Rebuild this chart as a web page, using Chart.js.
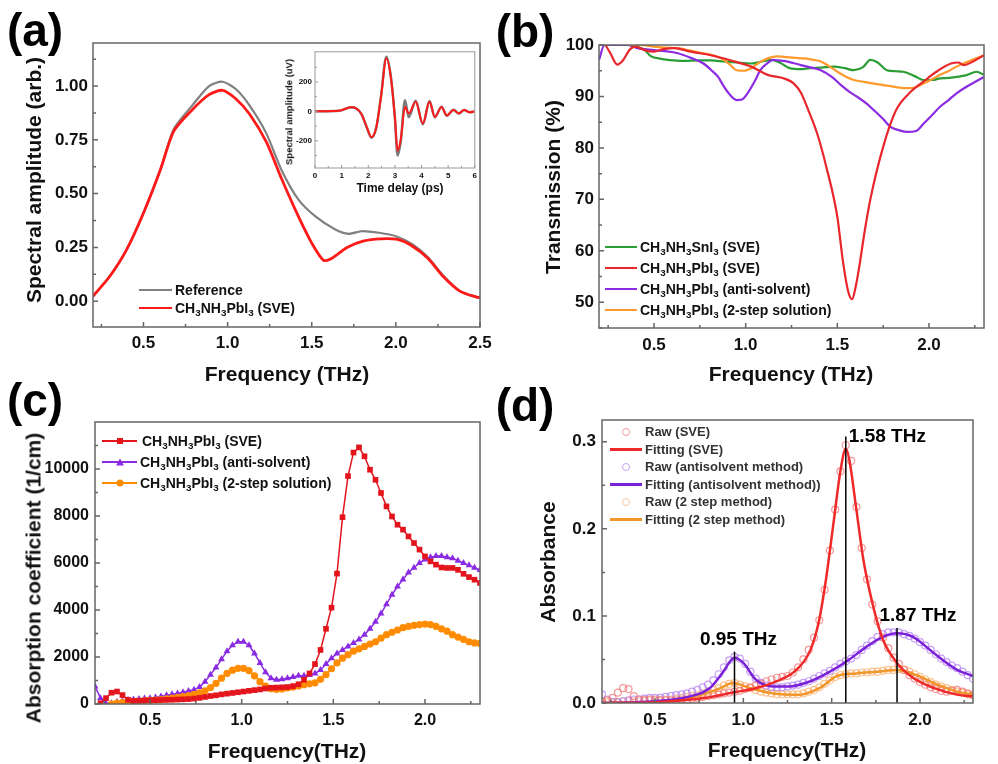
<!DOCTYPE html>
<html>
<head>
<meta charset="utf-8">
<script src="https://cdn.jsdelivr.net/npm/chart.js@4.4.1/dist/chart.umd.min.js"></script>
<style>
body { margin: 0; background: #fff; }
#page { position: relative; width: 998px; height: 764px; overflow: hidden; background: #fff;
        font-family: 'Liberation Sans', Arial, sans-serif; font-weight: bold; color: #111; }
canvas { position: absolute; }
.t { position: absolute; white-space: nowrap; line-height: 1; transform: translate(-50%, -50%); }
.r { transform: translate(-50%, -50%) rotate(-90deg); }
.lbl { font-size: 46px; color: #000; }
.ttl { font-size: 21px; }
.lg { position: absolute; white-space: nowrap; }
.lg > div { display: flex; align-items: center; }
.sw { position: relative; display: inline-block; margin-right: 3px; }
.mk { position: absolute; left: 50%; top: 50%; transform: translate(-50%, -50%); }
sub { font-size: 70%; vertical-align: -0.3em; line-height: 0; }
</style>
</head>
<body>
<div id="page">
  <canvas id="chartA" width="499" height="385" style="left:0;top:0"></canvas>
  <canvas id="chartInset" width="200" height="156" style="left:280px;top:44px"></canvas>
  <canvas id="chartB" width="508" height="385" style="left:490px;top:0"></canvas>
  <canvas id="chartC" width="499" height="379" style="left:0;top:385px"></canvas>
  <canvas id="chartD" width="508" height="379" style="left:490px;top:385px"></canvas>

  <div class="t lbl" style="left:35px;top:30px">(a)</div>
  <div class="t lbl" style="left:525px;top:31px">(b)</div>
  <div class="t lbl" style="left:35px;top:400px">(c)</div>
  <div class="t lbl" style="left:525px;top:405px">(d)</div>

  <div class="t ttl r" style="left:33px;top:180px">Spectral amplitude (arb.)</div>
  <div class="t ttl" style="left:287px;top:373px">Frequency (THz)</div>
  <div class="t r" style="left:289px;top:112px;font-size:9.5px">Spectral amplitude (uV)</div>
  <div class="t" style="left:400px;top:188px;font-size:12px">Time delay (ps)</div>

  <div class="t ttl r" style="left:552px;top:187px">Transmission (%)</div>
  <div class="t ttl" style="left:791px;top:373px">Frequency (THz)</div>

  <div class="t ttl r" style="left:33px;top:578px">Absorption coefficient (1/cm)</div>
  <div class="t ttl" style="left:287px;top:750px">Frequency(THz)</div>

  <div class="t ttl r" style="left:547px;top:562px">Absorbance</div>
  <div class="t ttl" style="left:787px;top:749px">Frequency(THz)</div>

  <div class="lg" style="left:139px;top:281px;font-size:14px">
    <div style="height:18px"><span class="sw" style="width:33px;height:2.5px;background:#808080"></span><span>Reference</span></div>
    <div style="height:18px"><span class="sw" style="width:33px;height:2.5px;background:#ff1a1a"></span><span>CH<sub>3</sub>NH<sub>3</sub>PbI<sub>3</sub> (SVE)</span></div>
  </div>

  <div class="lg" style="left:605px;top:236px;font-size:14px">
    <div style="height:21px"><span class="sw" style="width:32px;height:2px;background:#2a9d34"></span><span>CH<sub>3</sub>NH<sub>3</sub>SnI<sub>3</sub> (SVE)</span></div>
    <div style="height:21px"><span class="sw" style="width:32px;height:2px;background:#e8262b"></span><span>CH<sub>3</sub>NH<sub>3</sub>PbI<sub>3</sub> (SVE)</span></div>
    <div style="height:21px"><span class="sw" style="width:32px;height:2px;background:#8b2be2"></span><span>CH<sub>3</sub>NH<sub>3</sub>PbI<sub>3</sub> (anti-solvent)</span></div>
    <div style="height:21px"><span class="sw" style="width:32px;height:2px;background:#ff9a2e"></span><span>CH<sub>3</sub>NH<sub>3</sub>PbI<sub>3</sub> (2-step solution)</span></div>
  </div>

  <div class="lg" style="left:102px;top:430px;font-size:14px">
    <div style="height:21px"><span class="sw" style="width:35px;height:2px;background:#e3141c;margin-right:5px"><span class="mk" style="width:6px;height:6px;background:#e3141c"></span></span><span>CH<sub>3</sub>NH<sub>3</sub>PbI<sub>3</sub> (SVE)</span></div>
    <div style="height:21px"><span class="sw" style="width:35px;height:2px;background:#8a2be2"><span class="mk" style="width:0;height:0;border-left:4px solid transparent;border-right:4px solid transparent;border-bottom:7px solid #8a2be2"></span></span><span>CH<sub>3</sub>NH<sub>3</sub>PbI<sub>3</sub> (anti-solvent)</span></div>
    <div style="height:21px"><span class="sw" style="width:35px;height:2px;background:#ff8c00"><span class="mk" style="width:7px;height:7px;border-radius:50%;background:#ff8c00"></span></span><span>CH<sub>3</sub>NH<sub>3</sub>PbI<sub>3</sub> (2-step solution)</span></div>
  </div>

  <div class="lg" style="left:610px;top:423px;font-size:13px;color:#333">
    <div style="height:17.5px"><span class="sw" style="width:32px;height:2px"><span class="mk" style="width:6px;height:6px;border-radius:50%;border:1px solid #f39a9a"></span></span><span>Raw (SVE)</span></div>
    <div style="height:17.5px"><span class="sw" style="width:32px;height:3px;background:#ee2a2a"></span><span>Fitting (SVE)</span></div>
    <div style="height:17.5px"><span class="sw" style="width:32px;height:2px"><span class="mk" style="width:6px;height:6px;border-radius:50%;border:1px solid #c5a2f2"></span></span><span>Raw (antisolvent method)</span></div>
    <div style="height:17.5px"><span class="sw" style="width:32px;height:3px;background:#7b22d9"></span><span>Fitting (antisolvent method))</span></div>
    <div style="height:17.5px"><span class="sw" style="width:32px;height:2px"><span class="mk" style="width:6px;height:6px;border-radius:50%;border:1px solid #f8c298"></span></span><span>Raw (2 step method)</span></div>
    <div style="height:17.5px"><span class="sw" style="width:32px;height:3px;background:#f0962a"></span><span>Fitting (2 step method)</span></div>
  </div>
</div>

<script>
// (a) spectral amplitude
const aRefX = [0.2, 0.3, 0.4, 0.5, 0.6, 0.68, 0.79, 0.89, 0.97, 1.05, 1.13, 1.23, 1.32, 1.42, 1.52, 1.64, 1.72, 1.8, 1.9, 2.0, 2.1, 2.19, 2.28, 2.38, 2.48, 2.5];
const aRefY = [0.023, 0.116, 0.24, 0.41, 0.61, 0.8, 0.91, 1.0, 1.02, 0.985, 0.91, 0.78, 0.61, 0.473, 0.395, 0.333, 0.313, 0.326, 0.318, 0.302, 0.264, 0.205, 0.12, 0.047, 0.019, 0.017];
const aSveX = [0.2, 0.3, 0.4, 0.5, 0.6, 0.68, 0.79, 0.89, 0.97, 1.05, 1.13, 1.23, 1.32, 1.42, 1.5, 1.57, 1.62, 1.71, 1.81, 1.91, 2.01, 2.09, 2.19, 2.28, 2.38, 2.48, 2.5];
const aSveY = [0.023, 0.116, 0.24, 0.41, 0.61, 0.79, 0.89, 0.96, 0.98, 0.94, 0.87, 0.74, 0.57, 0.395, 0.27, 0.19, 0.2, 0.25, 0.28, 0.29, 0.287, 0.26, 0.2, 0.116, 0.047, 0.019, 0.017];

// inset: time-domain signal
const insetT = [0, 0.9, 1.35, 1.55, 1.75, 1.95, 2.12, 2.3, 2.48, 2.68, 2.85, 3.0, 3.1, 3.22, 3.38, 3.52, 3.78, 4.05, 4.3, 4.5, 4.75, 4.95, 5.2, 5.4, 5.6, 5.8, 6.0];
const insetSve = [0, 4, 28, 20, -20, -110, -175, -110, 100, 360, 230, -40, -267, -190, 30, -15, 65, -82, 66, -38, 30, -28, 10, -14, 9, -6, 0];
const insetRef = [0, 4, 28, 20, -20, -112, -180, -112, 105, 372, 236, -45, -300, -205, 75, -40, 72, -88, 70, -40, 32, -30, 11, -15, 10, -6, 0];
const insetTicksY = [-200, 0, 200];

// (b) transmission
const bSnX = [0.36, 0.41, 0.45, 0.48, 0.54, 0.61, 0.67, 0.74, 0.81, 0.88, 0.95, 1.03, 1.09, 1.14, 1.19, 1.24, 1.3, 1.35, 1.41, 1.48, 1.54, 1.59, 1.64, 1.68, 1.72, 1.77, 1.82, 1.86, 1.92, 1.97, 2.02, 2.06, 2.11, 2.15, 2.2, 2.26, 2.3];
const bSnY = [100, 99.6, 99, 97.9, 97.3, 97, 96.9, 97, 97, 96.8, 96.6, 96.4, 96.8, 97.1, 96.5, 95.5, 95.3, 95.5, 95.6, 95.8, 95.5, 95.1, 95.7, 97.1, 96.6, 95.1, 94.9, 94.8, 94, 93.2, 93.2, 93.5, 93.6, 93.8, 94.1, 94.8, 94.2];
const bSveX = [0.2, 0.23, 0.26, 0.3, 0.33, 0.37, 0.4, 0.45, 0.5, 0.55, 0.61, 0.7, 0.81, 0.92, 1.03, 1.12, 1.21, 1.26, 1.3, 1.34, 1.39, 1.44, 1.5, 1.53, 1.56, 1.58, 1.6, 1.62, 1.65, 1.68, 1.75, 1.82, 1.9, 1.97, 2.04, 2.12, 2.16, 2.19, 2.24, 2.3];
const bSveY = [100, 100, 98.5, 96.2, 97, 99.2, 99.7, 99, 98.7, 99.2, 99.4, 98.7, 98, 97, 95.8, 94.2, 93.5, 92.6, 90.8, 87.5, 82.8, 76.3, 66.6, 58.1, 52, 50.6, 53, 57, 64, 70, 80.2, 87.3, 90.9, 92.9, 94.8, 96.4, 96.6, 96.1, 96.8, 98];
const bAntiX = [0.2, 0.23, 0.27, 0.36, 0.41, 0.45, 0.5, 0.56, 0.63, 0.7, 0.77, 0.81, 0.85, 0.88, 0.91, 0.95, 0.98, 1.01, 1.05, 1.08, 1.12, 1.15, 1.18, 1.21, 1.26, 1.3, 1.36, 1.41, 1.47, 1.52, 1.57, 1.61, 1.66, 1.7, 1.75, 1.79, 1.84, 1.88, 1.93, 1.97, 2.02, 2.06, 2.11, 2.15, 2.2, 2.25, 2.3];
const bAntiY = [97.1, 100, 100, 100, 99.4, 99.2, 99, 98.8, 98.4, 97.5, 96.4, 95.2, 93.8, 92, 90.5, 89.3, 89.4, 90.6, 93, 95.1, 96.5, 97.1, 97, 96.9, 96.5, 96.1, 95.6, 95.1, 93.8, 92.2, 90.8, 89.9, 88.6, 87.3, 85.6, 84.1, 83.4, 83.1, 83.3, 84.7, 86.5, 88, 89.4, 90.6, 91.8, 92.8, 93.8];
const bStepX = [0.36, 0.42, 0.5, 0.56, 0.63, 0.7, 0.77, 0.84, 0.88, 0.92, 0.95, 0.99, 1.03, 1.07, 1.12, 1.17, 1.21, 1.27, 1.32, 1.37, 1.41, 1.45, 1.5, 1.55, 1.59, 1.65, 1.7, 1.75, 1.79, 1.84, 1.88, 1.93, 1.97, 2.02, 2.06, 2.11, 2.15, 2.2, 2.25, 2.3];
const bStepY = [100, 100, 99.7, 99.5, 99.4, 98.9, 98.4, 97.8, 97.1, 96, 95.1, 95, 95.5, 96.5, 97.4, 97.8, 97.7, 97.5, 97.4, 97.1, 96.8, 96, 94.8, 93.8, 93.2, 92.8, 92.5, 92.2, 92, 91.7, 91.6, 91.8, 92.5, 93.4, 94.2, 95, 95.8, 96.6, 97.3, 98];

// (c) absorption coefficient and (d) raw absorbance share this frequency grid
const freqGrid = [0.20, 0.23, 0.26, 0.29, 0.32, 0.35, 0.38, 0.41, 0.44, 0.47, 0.50, 0.53, 0.56, 0.59, 0.62, 0.65, 0.68, 0.71, 0.74, 0.77,
  0.80, 0.83, 0.86, 0.89, 0.92, 0.95, 0.98, 1.01, 1.04, 1.07, 1.10, 1.13, 1.16, 1.19, 1.22, 1.25, 1.28, 1.31, 1.34, 1.37,
  1.40, 1.43, 1.46, 1.49, 1.52, 1.55, 1.58, 1.61, 1.64, 1.67, 1.70, 1.73, 1.76, 1.79, 1.82, 1.85, 1.88, 1.91, 1.94, 1.97,
  2.00, 2.03, 2.06, 2.09, 2.12, 2.15, 2.18, 2.21, 2.24, 2.27, 2.30];
const cSve = [null, 30, 250, 480, 530, 380, 180, 130, 140, 150, 160, 165, 170, 175, 180, 190, 200, 210, 230, 260,
  300, 340, 370, 410, 440, 470, 500, 530, 560, 590, 620, 660, 690, 700, 710, 720, 760, 840, 1030, 1300,
  1700, 2300, 3200, 4100, 5550, 7950, 9700, 10700, 10920, 10540, 9970, 9540, 8980, 8410, 7980, 7630, 7420, 7130, 6850, 6570,
  6280, 6070, 5930, 5810, 5790, 5790, 5710, 5540, 5400, 5290, 5150];
const cAnti = [750, 250, 20, 30, 80, 130, 170, 190, 210, 230, 250, 280, 320, 370, 410, 450, 500, 550, 610, 720,
  950, 1250, 1550, 1900, 2250, 2500, 2650, 2650, 2500, 2150, 1750, 1350, 1100, 1030, 1050, 1100, 1150, 1200, 1200, 1230,
  1300, 1450, 1700, 1950, 2150, 2300, 2450, 2600, 2750, 2950, 3200, 3500, 3850, 4250, 4650, 5000, 5300, 5600, 5800, 6000,
  6150, 6250, 6300, 6300, 6250, 6200, 6100, 6000, 5900, 5800, 5700];
const cStep = [null, null, null, 0, 40, 70, 90, 100, 110, 130, 150, 170, 190, 220, 250, 280, 320, 360, 410, 470,
  560, 700, 880, 1100, 1300, 1440, 1520, 1520, 1420, 1200, 950, 760, 650, 620, 640, 680, 720, 770, 820, 860,
  900, 1050, 1250, 1500, 1750, 1950, 2100, 2250, 2350, 2450, 2550, 2650, 2800, 2950, 3050, 3150, 3250, 3300, 3350, 3380,
  3400, 3380, 3300, 3200, 3100, 2950, 2850, 2750, 2650, 2600, 2580];

// (d) absorbance
const dRawSve = [0.002, 0.003, 0.006, 0.012, 0.017, 0.016, 0.008, 0.004, 0.003, 0.004, 0.004, 0.003, 0.003, 0.003, 0.003, 0.004, 0.004, 0.005, 0.006, 0.007,
  0.008, 0.009, 0.010, 0.011, 0.012, 0.013, 0.014, 0.016, 0.018, 0.020, 0.022, 0.025, 0.027, 0.029, 0.030, 0.031, 0.035, 0.041, 0.050, 0.061,
  0.075, 0.095, 0.130, 0.175, 0.222, 0.266, 0.296, 0.278, 0.225, 0.178, 0.142, 0.113, 0.094, 0.075, 0.063, 0.052, 0.045, 0.038, 0.032, 0.028,
  0.024, 0.021, 0.018, 0.016, 0.014, 0.013, 0.014, 0.015, 0.013, 0.011, 0.009];
const dRawAnti = [0.010, 0.004, 0.001, 0.001, 0.002, 0.003, 0.004, 0.004, 0.005, 0.006, 0.006, 0.006, 0.007, 0.008, 0.009, 0.010, 0.011, 0.013, 0.015, 0.018,
  0.021, 0.026, 0.033, 0.041, 0.049, 0.053, 0.051, 0.045, 0.036, 0.028, 0.023, 0.020, 0.018, 0.018, 0.018, 0.019, 0.020, 0.021, 0.023, 0.025,
  0.028, 0.031, 0.034, 0.037, 0.041, 0.045, 0.048, 0.051, 0.055, 0.061, 0.066, 0.071, 0.076, 0.079, 0.081, 0.081, 0.081, 0.079, 0.077, 0.074,
  0.070, 0.066, 0.061, 0.056, 0.051, 0.047, 0.043, 0.040, 0.036, 0.032, 0.028];
const dRawStep = [0.001, 0.001, 0.001, 0.001, 0.002, 0.002, 0.002, 0.002, 0.003, 0.003, 0.003, 0.003, 0.004, 0.004, 0.005, 0.006, 0.007, 0.008, 0.009, 0.011,
  0.013, 0.015, 0.017, 0.020, 0.022, 0.023, 0.021, 0.019, 0.017, 0.015, 0.013, 0.012, 0.011, 0.010, 0.010, 0.010, 0.010, 0.010, 0.011, 0.013,
  0.015, 0.018, 0.022, 0.026, 0.030, 0.032, 0.033, 0.034, 0.034, 0.035, 0.035, 0.036, 0.036, 0.037, 0.038, 0.038, 0.039, 0.038, 0.036, 0.033,
  0.030, 0.027, 0.024, 0.021, 0.019, 0.017, 0.015, 0.013, 0.012, 0.010, 0.009];
const dFitSveX = [0.2, 0.5, 0.79, 0.94, 1.07, 1.19, 1.3, 1.38, 1.43, 1.47, 1.51, 1.55, 1.58, 1.6, 1.64, 1.68, 1.74, 1.79, 1.87, 1.96, 2.08, 2.21, 2.3];
const dFitSveY = [0, 0.001, 0.006, 0.012, 0.017, 0.025, 0.038, 0.061, 0.096, 0.145, 0.206, 0.267, 0.292, 0.279, 0.222, 0.164, 0.107, 0.073, 0.046, 0.029, 0.017, 0.0096, 0.0076];
const dFitAntiX = [0.2, 0.5, 0.7, 0.81, 0.88, 0.95, 1.0, 1.07, 1.17, 1.26, 1.38, 1.49, 1.6, 1.7, 1.79, 1.87, 1.96, 2.08, 2.21, 2.3];
const dFitAntiY = [0, 0.002, 0.0076, 0.017, 0.034, 0.052, 0.046, 0.027, 0.019, 0.019, 0.025, 0.036, 0.05, 0.065, 0.076, 0.08, 0.076, 0.057, 0.038, 0.031];
const dFitStepX = [0.2, 0.5, 0.73, 0.87, 0.94, 1.04, 1.17, 1.32, 1.43, 1.53, 1.64, 1.76, 1.87, 1.98, 2.1, 2.21, 2.3];
const dFitStepY = [0, 0.001, 0.0076, 0.017, 0.023, 0.017, 0.011, 0.0096, 0.017, 0.031, 0.034, 0.036, 0.038, 0.032, 0.021, 0.013, 0.0096];
const peakFreqs = [0.95, 1.58, 1.87];
const peakTops = [0.059, 0.306, 0.086];
const peakLabels = ['0.95 THz', '1.58 THz', '1.87 THz'];

const FONT = "'Liberation Sans', Arial, sans-serif";
Chart.defaults.font.family = FONT;

function pts(xs, ys) {
  return xs.map((x, i) => ({ x: x, y: ys[i] }));
}

// box around the plot area with inward major + minor ticks
const framePlugin = {
  id: 'frame',
  afterDraw(chart, args, opts) {
    const { ctx, chartArea: a, scales } = chart;
    ctx.save();
    ctx.strokeStyle = opts.color || '#666';
    ctx.lineWidth = opts.width || 1.5;
    ctx.strokeRect(a.left, a.top, a.right - a.left, a.bottom - a.top);
    const len = opts.tick || 5;
    const mlen = opts.minor || 3;
    ctx.beginPath();
    ['x', 'y'].forEach(id => {
      const s = scales[id];
      const vals = s.ticks.map(t => t.value);
      const marks = vals.map(v => [v, len]);
      if (vals.length > 1) {
        const step = vals[1] - vals[0];
        if (vals[0] - step / 2 >= s.min) marks.push([vals[0] - step / 2, mlen]);
        vals.forEach(v => { if (v + step / 2 <= s.max) marks.push([v + step / 2, mlen]); });
      }
      marks.forEach(([v, l]) => {
        const p = s.getPixelForValue(v);
        if (id === 'x') { ctx.moveTo(p, a.bottom); ctx.lineTo(p, a.bottom - l); }
        else { ctx.moveTo(a.left, p); ctx.lineTo(a.left + l, p); }
      });
    });
    ctx.stroke();
    ctx.restore();
  }
};
Chart.register(framePlugin);

const peakLabelPlugin = {
  id: 'peakLabels',
  afterDatasetsDraw(chart) {
    const { ctx, scales: { x, y } } = chart;
    const offsets = [{ dx: 4, dy: -12, align: 'center' }, { dx: 3, dy: 0, align: 'left' }, { dx: 21, dy: -12, align: 'center' }];
    ctx.save();
    ctx.font = 'bold 19px ' + FONT;
    ctx.fillStyle = '#000';
    ctx.textBaseline = 'middle';
    peakLabels.forEach((txt, i) => {
      ctx.textAlign = offsets[i].align;
      ctx.fillText(txt, x.getPixelForValue(peakFreqs[i]) + offsets[i].dx, y.getPixelForValue(peakTops[i]) + offsets[i].dy);
    });
    ctx.restore();
  }
};

function panelOptions(p) {
  const tickFont = { size: p.font, weight: 'bold' };
  return {
    responsive: false,
    animation: false,
    events: [],
    layout: { padding: { left: 0, top: p.area[1], right: p.w - p.area[2], bottom: 0 } },
    plugins: { legend: { display: false }, tooltip: { enabled: false }, frame: p.frame },
    elements: { point: { radius: 0 } },
    scales: {
      x: {
        type: 'linear', min: p.x[0], max: p.x[1],
        grid: { display: false, drawTicks: false },
        border: { display: false },
        ticks: { stepSize: p.x[2], includeBounds: false, autoSkip: false, maxRotation: 0,
                 padding: p.xPad, color: '#111', font: tickFont, callback: p.xFmt },
        afterFit: s => { s.height = p.h - p.area[3]; }
      },
      y: {
        type: 'linear', min: p.y[0], max: p.y[1],
        grid: { display: false, drawTicks: false },
        border: { display: false },
        ticks: { stepSize: p.y[2], includeBounds: false, autoSkip: false,
                 padding: p.yPad, color: '#111', font: tickFont, callback: p.yFmt },
        afterBuildTicks: s => {
          if (p.yTicks) s.ticks = p.yTicks.map(v => ({ value: v }));
          else if (p.yTop !== undefined) s.ticks = s.ticks.filter(t => t.value <= p.yTop);
        },
        afterFit: s => { s.width = p.area[0]; }
      }
    }
  };
}

// (a)
new Chart(document.getElementById('chartA'), {
  type: 'line',
  data: {
    datasets: [
      { data: pts(aSveX, aSveY), borderColor: '#ff1a1a', borderWidth: 2.8, tension: 0.25, order: 0 },
      { data: pts(aRefX, aRefY), borderColor: '#808080', borderWidth: 2.2, tension: 0.25, order: 1 }
    ]
  },
  options: panelOptions({
    w: 499, h: 385, area: [93, 43, 480, 327], font: 17, xPad: 6, yPad: 5,
    x: [0.2, 2.5, 0.5], y: [-0.12, 1.2, 0.25],
    xFmt: v => v.toFixed(1), yFmt: v => v.toFixed(2),
    frame: { color: '#666', width: 1.5 }
  })
});

// inset of (a)
new Chart(document.getElementById('chartInset'), {
  type: 'line',
  data: {
    datasets: [
      { data: pts(insetT, insetSve), borderColor: '#ff1a1a', borderWidth: 2, cubicInterpolationMode: 'monotone', order: 0 },
      { data: pts(insetT, insetRef), borderColor: '#7a7a7a', borderWidth: 2.5, cubicInterpolationMode: 'monotone', order: 1 }
    ]
  },
  options: panelOptions({
    w: 200, h: 156, area: [35, 5, 195, 124], font: 8, xPad: 3, yPad: 3,
    x: [0, 6, 1], y: [-385, 405, 200], yTicks: insetTicksY,
    xFmt: v => String(v), yFmt: v => String(v),
    frame: { color: '#999', width: 1, tick: 3, minor: 2 }
  })
});

// (b)
new Chart(document.getElementById('chartB'), {
  type: 'line',
  data: {
    datasets: [
      { data: pts(bSnX, bSnY), borderColor: '#2a9d34', borderWidth: 2.2, cubicInterpolationMode: 'monotone', order: 3 },
      { data: pts(bAntiX, bAntiY), borderColor: '#8b2be2', borderWidth: 2.2, cubicInterpolationMode: 'monotone', order: 2 },
      { data: pts(bStepX, bStepY), borderColor: '#ff9a2e', borderWidth: 2.2, cubicInterpolationMode: 'monotone', order: 1 },
      { data: pts(bSveX, bSveY), borderColor: '#e8262b', borderWidth: 2.2, cubicInterpolationMode: 'monotone', order: 0 }
    ]
  },
  options: panelOptions({
    w: 508, h: 385, area: [109, 45, 494, 328], font: 17, xPad: 7, yPad: 5,
    x: [0.2, 2.3, 0.5], y: [45, 100, 10],
    xFmt: v => v.toFixed(1), yFmt: v => String(v),
    frame: { color: '#666', width: 1.5 }
  })
});

// (c)
new Chart(document.getElementById('chartC'), {
  type: 'line',
  data: {
    datasets: [
      { data: pts(freqGrid, cAnti), borderColor: '#8a2be2', borderWidth: 1.5, pointStyle: 'triangle', pointRadius: 4,
        pointBackgroundColor: '#8a2be2', pointBorderColor: '#8a2be2', pointBorderWidth: 0, order: 2 },
      { data: pts(freqGrid, cStep), borderColor: '#ff8c00', borderWidth: 1.5, pointStyle: 'circle', pointRadius: 3.6,
        pointBackgroundColor: '#ff8c00', pointBorderColor: '#ff8c00', pointBorderWidth: 0, order: 1 },
      { data: pts(freqGrid, cSve), borderColor: '#e3141c', borderWidth: 1.5, pointStyle: 'rect', pointRadius: 4,
        pointBackgroundColor: '#e3141c', pointBorderColor: '#e3141c', pointBorderWidth: 0, order: 0 }
    ]
  },
  options: panelOptions({
    w: 499, h: 379, area: [95, 37, 480, 319], font: 16, xPad: 7, yPad: 6,
    x: [0.2, 2.3, 0.5], y: [0, 12000, 2000], yTop: 10000,
    xFmt: v => v.toFixed(1), yFmt: v => String(v),
    frame: { color: '#666', width: 1.5 }
  })
});

// (d)
const rawStyle = (color, ord) => ({
  showLine: false, pointStyle: 'circle', pointRadius: 3.5, pointBorderWidth: 1.2,
  pointBorderColor: color, pointBackgroundColor: 'rgba(0,0,0,0)', order: ord
});
const markerLines = peakFreqs.map((f, i) => ({
  data: [{ x: f, y: 0 }, { x: f, y: peakTops[i] }], borderColor: '#000', borderWidth: 1.5, order: 0
}));
new Chart(document.getElementById('chartD'), {
  type: 'line',
  data: {
    datasets: [
      Object.assign({ data: pts(freqGrid, dRawSve) }, rawStyle('rgba(240,110,110,0.7)', 5)),
      Object.assign({ data: pts(freqGrid, dRawAnti) }, rawStyle('rgba(175,120,240,0.7)', 5)),
      Object.assign({ data: pts(freqGrid, dRawStep) }, rawStyle('rgba(250,170,100,0.7)', 5)),
      { data: pts(dFitStepX, dFitStepY), borderColor: '#f0962a', borderWidth: 2.5, cubicInterpolationMode: 'monotone', order: 3 },
      { data: pts(dFitAntiX, dFitAntiY), borderColor: '#7b22d9', borderWidth: 2.5, cubicInterpolationMode: 'monotone', order: 2 },
      { data: pts(dFitSveX, dFitSveY), borderColor: '#ee2a2a', borderWidth: 2.5, cubicInterpolationMode: 'monotone', order: 1 }
    ].concat(markerLines)
  },
  options: panelOptions({
    w: 508, h: 379, area: [112, 35, 483, 318], font: 17, xPad: 7, yPad: 6,
    x: [0.2, 2.3, 0.5], y: [0, 0.325, 0.1],
    xFmt: v => v.toFixed(1), yFmt: v => v.toFixed(1),
    frame: { color: '#666', width: 1.5 }
  }),
  plugins: [peakLabelPlugin]
});
</script>
</body>
</html>
